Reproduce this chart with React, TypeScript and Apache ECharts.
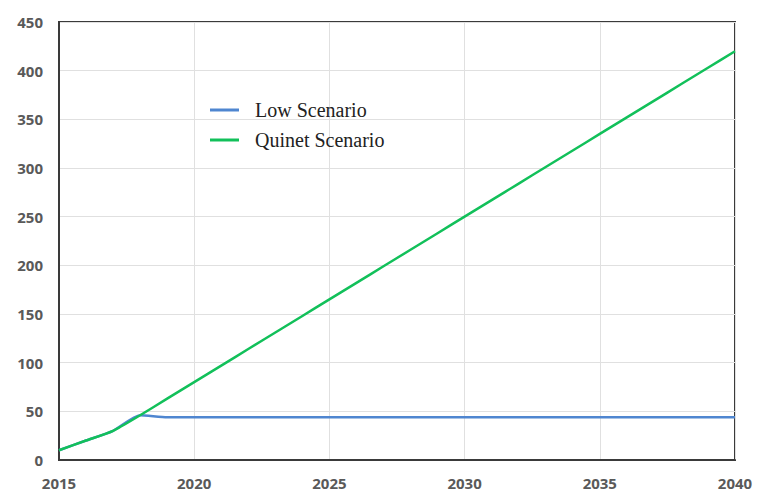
import React, { useEffect, useRef } from "react";
import * as echarts from "echarts";

const years = [2015, 2016, 2017, 2018, 2019, 2020, 2021, 2022, 2023, 2024, 2025, 2026, 2027, 2028, 2029, 2030, 2031, 2032, 2033, 2034, 2035, 2036, 2037, 2038, 2039, 2040];
const lowScenario = [10, 20, 30, 46, 44, 44, 44, 44, 44, 44, 44, 44, 44, 44, 44, 44, 44, 44, 44, 44, 44, 44, 44, 44, 44, 44];
const quinetScenario = [10, 20, 30, 46, 63, 80, 97, 114, 131, 148, 165, 182, 199, 216, 233, 250, 267, 284, 301, 318, 335, 352, 369, 386, 403, 420];
const seriesNames = ["Low Scenario", "Quinet Scenario"];

export default function App() {
  const ref = useRef<HTMLDivElement>(null);
  useEffect(() => {
    document.body.style.margin = "0";
    const chart = echarts.init(ref.current!, null, { renderer: "svg" });
    const labelStyle = {
      color: "#595959",
      fontFamily: "Open Sans",
      fontWeight: 700,
      fontSize: 15,
    };
    chart.setOption({
      animation: false,
      backgroundColor: "#ffffff",
      grid: {
        left: 59,
        right: 23,
        top: 22,
        bottom: 32,
        show: true,
        borderColor: "#3a3a3a",
        borderWidth: 2,
      },
      legend: {
        orient: "vertical",
        left: 205,
        top: 95,
        itemWidth: 29,
        itemHeight: 3,
        itemGap: 10,
        icon: "rect",
        data: seriesNames,
        textStyle: {
          fontFamily: "Liberation Serif",
          fontSize: 20,
          lineHeight: 20,
          color: "#222222",
          padding: [0, 0, 0, 11],
        },
      },
      xAxis: {
        type: "value",
        min: 2015,
        max: 2040,
        interval: 5,
        axisLine: { show: true, lineStyle: { color: "#3a3a3a", width: 2 } },
        axisTick: { show: false },
        splitLine: { show: true, lineStyle: { color: "#e0e0e0", width: 1 } },
        axisLabel: { ...labelStyle, margin: 15, formatter: (v: number) => String(v) },
      },
      yAxis: {
        type: "value",
        min: 0,
        max: 450,
        interval: 50,
        axisLine: { show: true, lineStyle: { color: "#3a3a3a", width: 2 } },
        axisTick: { show: false },
        splitLine: { show: true, lineStyle: { color: "#e0e0e0", width: 1 } },
        axisLabel: { ...labelStyle, margin: 16 },
      },
      series: [
        {
          name: seriesNames[0],
          type: "line",
          data: years.map((y, i) => [y, lowScenario[i]]),
          symbol: "none",
          smooth: 0.2,
          lineStyle: { color: "#4f86d0", width: 2.5 },
          itemStyle: { color: "#4f86d0" },
        },
        {
          name: seriesNames[1],
          type: "line",
          data: years.map((y, i) => [y, quinetScenario[i]]),
          symbol: "none",
          smooth: 0.2,
          lineStyle: { color: "#12c05a", width: 2.5 },
          itemStyle: { color: "#12c05a" },
        },
      ],
    });
    return () => chart.dispose();
  }, []);
  return <div ref={ref} style={{ width: 758, height: 492 }} />;
}
